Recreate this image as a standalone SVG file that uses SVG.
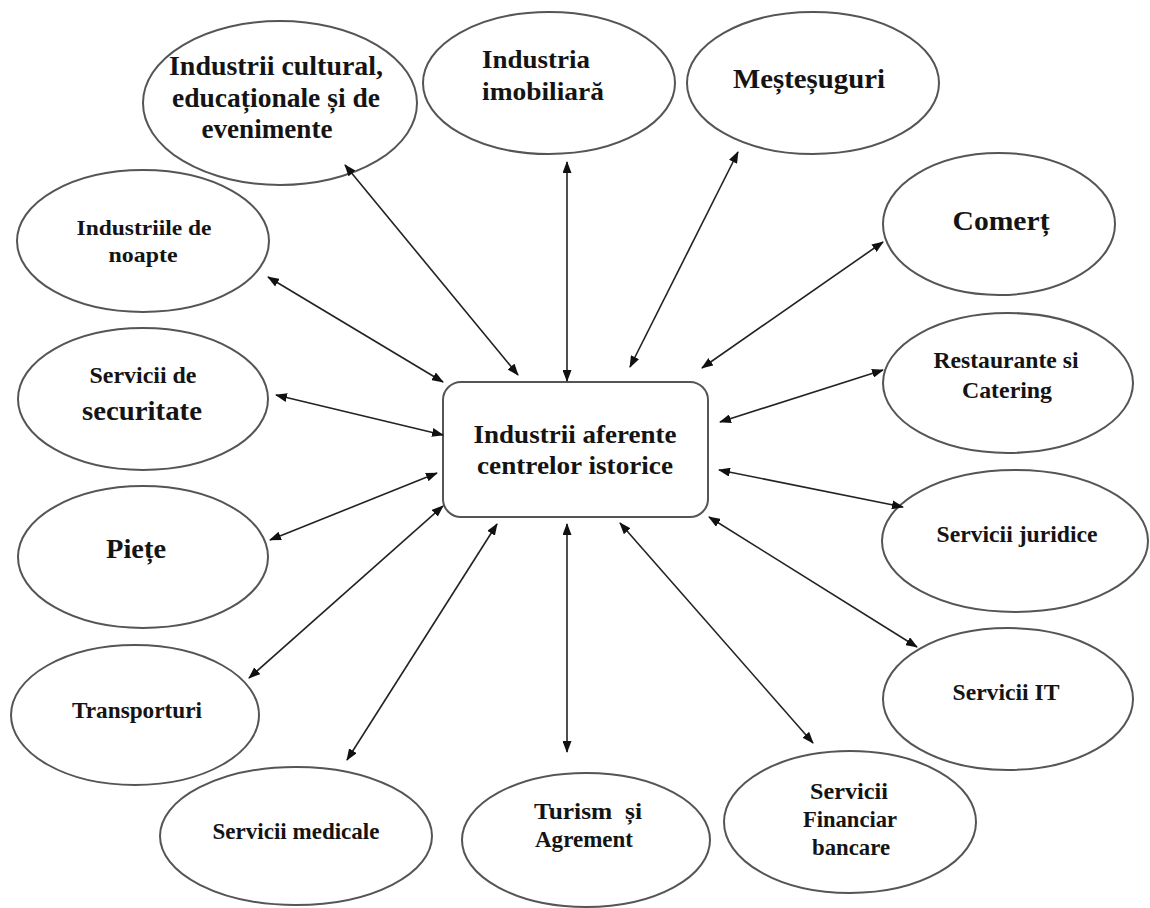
<svg xmlns="http://www.w3.org/2000/svg" width="1150" height="908" viewBox="0 0 1150 908">
<style>
.n{fill:#fff;stroke:#555;stroke-width:2}
.t{font-family:"Liberation Serif","Times New Roman",serif;font-weight:bold;fill:#141414;text-anchor:middle}
.s{text-anchor:start}
.c line{stroke:#222;stroke-width:1.6;marker-start:url(#ah);marker-end:url(#ah)}
</style>
<defs>
<marker id="ah" viewBox="0 0 12 9" refX="11" refY="4.5" markerWidth="12" markerHeight="9" markerUnits="userSpaceOnUse" orient="auto-start-reverse">
<path d="M0,0 L12,4.5 L0,9 z" fill="#111"/>
</marker>
</defs>
<rect width="1150" height="908" fill="#fff"/>
<g id="center">
<rect class="n" x="443" y="382" width="265" height="135" rx="18"/>
<text class="t" x="575" y="443" font-size="26" textLength="203" lengthAdjust="spacingAndGlyphs">Industrii aferente</text>
<text class="t" x="575" y="474" font-size="26" textLength="196" lengthAdjust="spacingAndGlyphs">centrelor istorice</text>
</g>
<g id="cultural">
<ellipse class="n" cx="280" cy="103" rx="137" ry="82"/>
<text class="t" x="276" y="75" font-size="27" textLength="214" lengthAdjust="spacingAndGlyphs">Industrii cultural,</text>
<text class="t" x="276" y="107" font-size="27" textLength="208" lengthAdjust="spacingAndGlyphs">educaționale și de</text>
<text class="t" x="267" y="138" font-size="27" textLength="131" lengthAdjust="spacingAndGlyphs">evenimente</text>
</g>
<g id="imobiliara">
<ellipse class="n" cx="549" cy="83" rx="126" ry="71"/>
<text class="t s" x="482" y="68" font-size="26" textLength="108" lengthAdjust="spacingAndGlyphs">Industria</text>
<text class="t s" x="482" y="100" font-size="26" textLength="122" lengthAdjust="spacingAndGlyphs">imobiliară</text>
</g>
<g id="mestesuguri">
<ellipse class="n" cx="813" cy="83" rx="126" ry="71"/>
<text class="t" x="809" y="88" font-size="28" textLength="152" lengthAdjust="spacingAndGlyphs">Meșteșuguri</text>
</g>
<g id="noapte">
<ellipse class="n" cx="143" cy="241" rx="126" ry="71"/>
<text class="t" x="144" y="235" font-size="22" textLength="135" lengthAdjust="spacingAndGlyphs">Industriile de</text>
<text class="t" x="143" y="262" font-size="22" textLength="69" lengthAdjust="spacingAndGlyphs">noapte</text>
</g>
<g id="securitate">
<ellipse class="n" cx="143" cy="399" rx="125" ry="71"/>
<text class="t" x="143" y="383" font-size="23" textLength="107" lengthAdjust="spacingAndGlyphs">Servicii de</text>
<text class="t" x="142" y="420" font-size="27" textLength="120" lengthAdjust="spacingAndGlyphs">securitate</text>
</g>
<g id="piete">
<ellipse class="n" cx="143" cy="557" rx="125" ry="71"/>
<text class="t" x="136" y="558" font-size="28" textLength="60" lengthAdjust="spacingAndGlyphs">Piețe</text>
</g>
<g id="transporturi">
<ellipse class="n" cx="135" cy="715" rx="124" ry="70"/>
<text class="t" x="137" y="718" font-size="23" textLength="130" lengthAdjust="spacingAndGlyphs">Transporturi</text>
</g>
<g id="medicale">
<ellipse class="n" cx="296" cy="836" rx="136" ry="69"/>
<text class="t" x="296" y="839" font-size="23" textLength="167" lengthAdjust="spacingAndGlyphs">Servicii medicale</text>
</g>
<g id="turism">
<ellipse class="n" cx="586" cy="840" rx="124" ry="67"/>
<text class="t" x="588" y="819" font-size="24" textLength="108" lengthAdjust="spacingAndGlyphs" xml:space="preserve">Turism  și</text>
<text class="t" x="584" y="847" font-size="23" textLength="98" lengthAdjust="spacingAndGlyphs">Agrement</text>
</g>
<g id="financiar">
<ellipse class="n" cx="850" cy="822" rx="126" ry="71"/>
<text class="t" x="849" y="799" font-size="23" textLength="78" lengthAdjust="spacingAndGlyphs">Servicii</text>
<text class="t" x="850" y="827" font-size="23" textLength="94" lengthAdjust="spacingAndGlyphs">Financiar</text>
<text class="t" x="851" y="855" font-size="23" textLength="78" lengthAdjust="spacingAndGlyphs">bancare</text>
</g>
<g id="comert">
<ellipse class="n" cx="999" cy="224" rx="116" ry="71"/>
<text class="t" x="1001" y="230" font-size="28" textLength="97" lengthAdjust="spacingAndGlyphs">Comerț</text>
</g>
<g id="restaurante">
<ellipse class="n" cx="1008" cy="383" rx="125" ry="70"/>
<text class="t" x="1006" y="368" font-size="23" textLength="145" lengthAdjust="spacingAndGlyphs">Restaurante si</text>
<text class="t" x="1007" y="398" font-size="23" textLength="90" lengthAdjust="spacingAndGlyphs">Catering</text>
</g>
<g id="juridice">
<ellipse class="n" cx="1015" cy="541" rx="133" ry="71"/>
<text class="t" x="1017" y="542" font-size="23" textLength="161" lengthAdjust="spacingAndGlyphs">Servicii juridice</text>
</g>
<g id="it">
<ellipse class="n" cx="1008" cy="699" rx="125" ry="71"/>
<text class="t" x="1006" y="700" font-size="23" textLength="107" lengthAdjust="spacingAndGlyphs">Servicii IT</text>
</g>
<g id="connectors" class="c">
<line x1="345" y1="165" x2="518" y2="375"/>
<line x1="567" y1="162" x2="567" y2="381"/>
<line x1="738" y1="152" x2="630" y2="367"/>
<line x1="883" y1="242" x2="702" y2="368"/>
<line x1="883" y1="370" x2="720" y2="422"/>
<line x1="719" y1="470" x2="903" y2="507"/>
<line x1="709" y1="517" x2="917" y2="647"/>
<line x1="620" y1="523" x2="813" y2="743"/>
<line x1="567" y1="524" x2="567" y2="752"/>
<line x1="497" y1="524" x2="347" y2="760"/>
<line x1="443" y1="506" x2="249" y2="678"/>
<line x1="437" y1="473" x2="270" y2="540"/>
<line x1="443" y1="435" x2="276" y2="395"/>
<line x1="443" y1="382" x2="268" y2="277"/>
</g>
</svg>
